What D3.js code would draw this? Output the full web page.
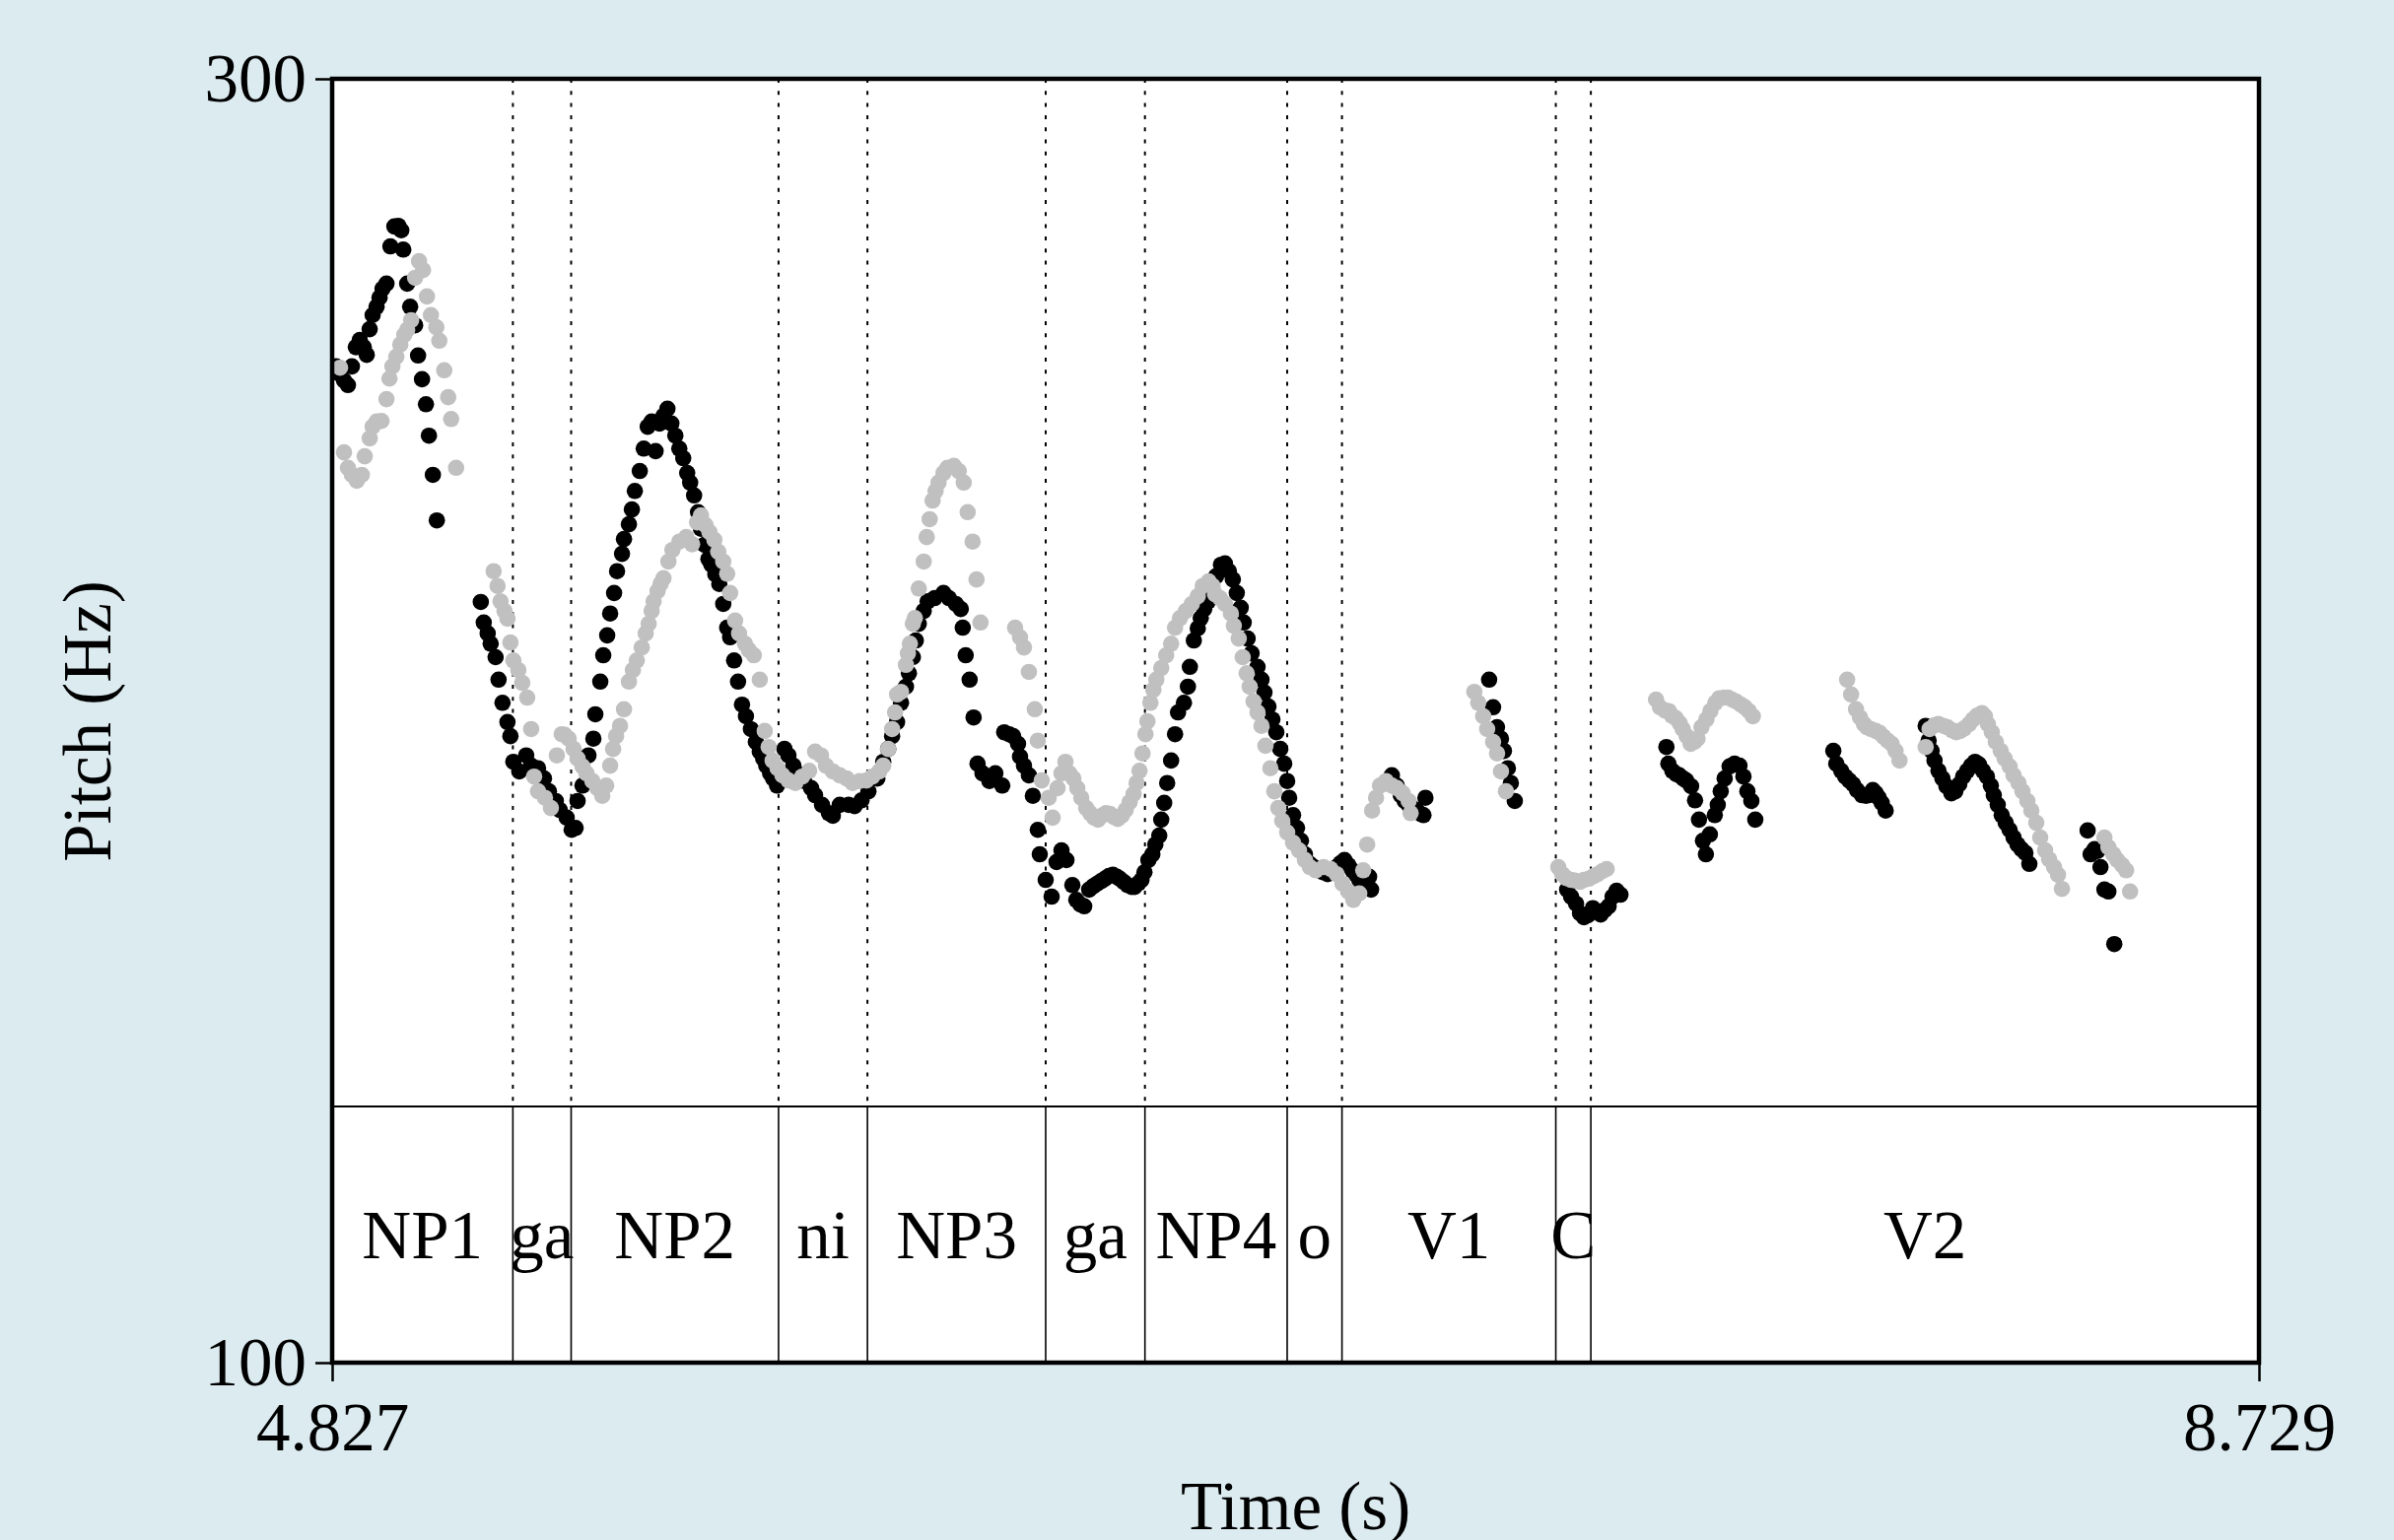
<!DOCTYPE html>
<html><head><meta charset="utf-8">
<script src="https://cdn.jsdelivr.net/npm/d3@7"></script>
<style>
html,body{margin:0;padding:0;background:#dcebf0;}
svg{display:block;}
text{font-family:"Liberation Serif","Times New Roman",serif;fill:#000;}
</style></head><body>
<svg id="chart" width="2429" height="1563"></svg>
<script>
// ---------- data ----------
const timeTicks = [4.827, 8.729];
const pitchTicks = [100, 300];
const tierLabels = ["NP1","ga","NP2","ni","NP3","ga","NP4","o","V1","C","V2"];
const tierBoundaries = [5.193, 5.311, 5.731, 5.911, 6.272, 6.473, 6.761, 6.872, 7.305, 7.376];

// [time (s), pitch (Hz)]
const blackPitch = [
[4.835,255.2],[4.843,254.0],[4.851,253.0],[4.859,252.3],[4.867,255.2],[4.875,258.2],[4.883,259.3],[4.891,258.2],[4.897,257.0],[4.903,261.0],[4.909,263.2],[4.917,264.5],[4.923,265.9],[4.929,267.3],[4.937,268.1],[4.945,273.9],[4.953,277.0],[4.961,277.1],[4.967,276.4],[4.971,273.4],[4.979,268.1],[4.985,264.5],[4.995,261.6],[5.001,256.9],[5.009,253.2],[5.017,249.3],[5.023,244.4],[5.031,238.3],[5.039,231.2],
[5.128,218.5],[5.134,215.3],[5.142,213.6],[5.148,212.0],[5.158,209.9],[5.164,206.4],[5.172,202.8],[5.182,199.8],[5.188,197.6],[5.194,193.6],[5.206,192.1],[5.220,194.6],[5.230,193.0],[5.244,192.6],[5.256,191.0],[5.266,189.0],[5.280,187.5],[5.288,186.1],[5.302,184.9],[5.312,183.0],[5.320,183.3],[5.324,187.5],[5.334,189.9],[5.346,194.6],[5.356,197.2],[5.360,201.0],[5.370,206.1],[5.376,210.2],[5.384,213.3],[5.390,216.7],[5.398,219.9],[5.404,223.3],[5.414,226.0],[5.418,228.3],[5.428,230.6],[5.434,232.9],[5.440,235.8],[5.450,238.9],[5.458,242.4],[5.466,245.8],[5.474,246.6],[5.482,242.0],[5.490,246.3],[5.498,247.5],[5.506,248.6],[5.514,246.3],[5.522,244.4],[5.530,242.4],[5.538,240.9],[5.546,238.6],[5.552,237.1],[5.560,235.1],[5.568,232.5],[5.574,229.9],[5.581,227.4],[5.589,225.2],[5.595,224.3],[5.603,222.8],[5.611,221.3],[5.619,218.2],[5.627,214.5],[5.633,213.0],[5.641,209.4],[5.649,206.1],[5.657,202.5],[5.665,200.7],[5.675,198.7],[5.685,196.7],[5.693,195.2],[5.700,194.1],[5.706,193.0],[5.714,191.8],[5.720,191.0],[5.728,189.9],
[5.743,195.6],[5.751,194.6],[5.761,193.0],[5.769,191.8],[5.783,190.6],[5.797,189.5],[5.805,188.4],[5.819,186.9],[5.833,185.6],[5.841,185.2],[5.855,186.9],[5.873,186.9],[5.885,186.7],[5.899,187.6],[5.913,189.0],[5.931,191.0],[5.943,193.6],[5.953,195.6],[5.961,197.6],[5.971,199.8],[5.979,202.8],[5.989,205.3],[5.995,207.4],[6.003,209.9],[6.009,212.5],[6.015,215.1],[6.025,217.1],[6.033,218.6],[6.047,219.1],[6.065,219.9],[6.076,219.1],[6.090,218.2],[6.100,217.4],[6.104,214.5],[6.110,210.2],[6.118,206.4],[6.126,200.5],[6.134,193.3],[6.144,191.8],[6.158,190.6],[6.170,191.8],[6.184,189.9],
[6.188,198.2],[6.198,197.9],[6.206,197.6],[6.216,196.4],[6.220,194.4],[6.228,193.0],[6.238,191.5],[6.246,188.3],[6.256,183.0],[6.260,179.2],[6.272,175.2],[6.284,172.6],[6.294,178.0],[6.304,179.8],[6.314,178.3],[6.326,174.4],[6.334,172.1],[6.342,171.4],[6.350,171.1],[6.360,173.7],[6.368,174.2],[6.376,174.6],[6.384,175.0],[6.392,175.4],[6.400,175.8],[6.408,176.0],[6.416,175.7],[6.422,175.4],[6.430,174.9],[6.438,174.4],[6.446,174.1],[6.452,174.1],[6.460,174.7],[6.466,175.2],[6.472,176.4],[6.480,178.3],[6.488,179.2],[6.494,180.7],[6.502,182.1],[6.506,184.6],[6.512,187.2],[6.518,190.3],[6.526,193.8],[6.534,197.9],[6.540,201.3],[6.552,202.8],[6.560,205.3],[6.564,208.4],[6.572,212.5],[6.580,214.4],[6.586,216.0],[6.593,217.4],[6.601,218.6],[6.609,220.6],[6.617,222.5],[6.627,224.3],[6.635,224.5],[6.643,223.3],[6.651,222.0],[6.659,219.9],[6.667,217.6],[6.673,215.3],[6.681,212.8],[6.689,210.5],[6.701,208.4],[6.709,206.4],[6.715,204.4],[6.723,202.2],[6.731,200.2],[6.739,198.2],[6.747,195.6],[6.755,193.3],[6.761,190.6],[6.765,188.0],[6.773,185.3],[6.781,183.3],[6.789,181.3],[6.797,179.2],[6.807,177.7],[6.815,177.2],[6.823,176.9],[6.833,176.4],[6.843,176.1],[6.853,176.7],[6.861,177.2],[6.869,177.8],[6.877,178.3],[6.885,177.5],[6.893,176.7],[6.901,176.0],[6.907,175.2],[6.919,175.7],[6.927,175.7],[6.931,173.7],
[6.973,191.5],[6.983,189.9],[6.991,188.4],[6.999,187.5],[7.007,186.9],[7.015,186.4],[7.023,186.1],[7.031,185.5],[7.037,185.3],[7.041,188.0],
[7.170,206.4],[7.178,202.1],[7.186,199.0],[7.194,197.2],[7.200,195.3],[7.208,192.6],[7.214,190.3],[7.222,187.5],
[7.328,173.7],[7.336,172.6],[7.346,171.5],[7.354,170.0],[7.362,169.4],[7.370,169.7],[7.380,170.8],[7.388,170.3],[7.396,169.8],[7.404,170.5],[7.412,171.1],[7.420,172.6],[7.428,173.5],[7.436,172.9],
[7.529,195.9],[7.533,193.3],[7.541,192.2],[7.549,191.7],[7.555,191.5],[7.563,191.0],[7.569,190.7],[7.579,189.8],[7.587,187.6],[7.595,184.6],[7.603,181.3],[7.609,179.2],[7.617,182.3],[7.627,185.3],[7.633,186.9],[7.639,189.0],[7.647,191.0],[7.657,192.9],[7.667,193.3],[7.677,193.0],[7.685,191.3],[7.693,189.0],[7.701,187.5],[7.709,184.6],
[7.867,195.3],[7.873,193.3],[7.883,192.2],[7.891,191.3],[7.899,190.7],[7.907,190.1],[7.915,189.2],[7.925,188.4],[7.933,188.3],[7.939,188.4],[7.947,189.2],[7.953,188.7],[7.959,188.0],[7.965,187.2],[7.973,186.0],
[8.054,199.2],[8.060,196.9],[8.066,195.3],[8.072,193.8],[8.080,192.2],[8.088,191.0],[8.096,189.8],[8.106,188.7],[8.114,189.0],[8.122,190.1],[8.130,191.3],[8.138,192.2],[8.146,193.0],[8.154,193.6],[8.162,193.2],[8.170,192.2],[8.178,191.3],[8.186,189.9],[8.192,188.4],[8.200,186.9],[8.208,185.3],[8.216,184.1],[8.224,183.0],[8.232,181.8],[8.240,180.7],[8.248,180.0],[8.256,179.4],[8.264,177.7],
[8.382,182.9],[8.388,179.2],[8.396,180.0],[8.402,179.7],[8.408,177.2],[8.416,173.7],[8.424,173.4],[8.436,165.2]
];

const grayPitch = [
[4.843,255.0],[4.851,241.8],[4.859,239.4],[4.867,238.3],[4.877,237.4],[4.887,238.3],[4.893,241.2],[4.903,244.0],[4.909,245.8],[4.917,246.6],[4.927,246.7],[4.937,250.1],[4.943,253.3],[4.949,255.2],[4.957,256.7],[4.965,258.6],[4.973,260.1],[4.979,260.9],[4.987,262.4],[4.995,269.0],[5.003,271.6],[5.011,270.2],[5.019,266.1],[5.027,263.2],[5.038,261.3],[5.044,259.2],[5.054,254.6],[5.062,250.4],[5.068,247.0],[5.078,239.4],
[5.154,223.3],[5.162,221.0],[5.168,218.6],[5.176,217.1],[5.182,215.9],[5.188,212.2],[5.194,209.4],[5.204,207.9],[5.212,205.9],[5.222,203.6],[5.230,198.7],[5.236,191.3],[5.244,189.0],[5.258,188.0],[5.270,186.4],[5.282,194.6],[5.292,197.9],[5.298,197.8],[5.306,197.2],[5.316,195.6],[5.324,194.1],[5.334,192.9],[5.342,191.8],[5.354,190.6],[5.364,189.5],[5.374,188.3],[5.382,189.9],[5.390,193.0],[5.396,195.6],[5.402,197.6],[5.410,199.2],[5.418,201.8],[5.428,206.1],[5.436,207.9],[5.444,209.4],[5.454,211.4],[5.462,213.6],[5.468,215.1],[5.474,217.1],[5.478,218.6],[5.486,220.2],[5.492,221.3],[5.498,222.2],[5.508,224.8],[5.516,226.6],[5.530,227.9],[5.544,228.6],[5.556,227.5],[5.566,230.9],[5.574,232.0],[5.583,230.5],[5.591,229.4],[5.601,228.2],[5.609,226.3],[5.619,224.8],[5.627,222.9],[5.633,219.9],[5.643,215.6],[5.651,213.6],[5.663,212.0],[5.671,211.0],[5.681,210.2],[5.693,206.4],[5.703,198.4],[5.711,195.9],[5.719,193.8],[5.729,192.6],[5.739,191.5],[5.751,190.7],[5.765,190.3],[5.779,191.3],[5.793,192.2],[5.805,195.2],[5.817,194.6],[5.827,193.0],[5.841,192.1],[5.855,191.5],[5.869,191.0],[5.881,190.3],[5.895,190.6],[5.909,190.7],[5.921,191.3],[5.935,192.1],[5.943,193.0],[5.953,195.6],[5.961,198.7],[5.967,201.3],[5.971,204.1],[5.979,204.5],[5.989,208.7],[5.993,210.5],[5.997,212.0],[6.003,215.1],[6.007,216.0],[6.015,220.6],[6.025,224.8],[6.031,228.6],[6.037,231.4],[6.043,234.3],[6.049,235.8],[6.055,237.1],[6.065,238.6],[6.073,239.4],[6.086,239.7],[6.096,238.9],[6.106,237.1],[6.114,232.5],[6.124,227.9],[6.132,222.0],[6.140,215.3],
[6.210,214.5],[6.220,213.0],[6.228,211.4],[6.238,207.6],[6.250,201.8],[6.256,196.9],[6.264,190.7],[6.278,188.0],[6.286,184.9],[6.296,189.5],[6.304,191.8],[6.312,193.6],[6.320,191.8],[6.328,191.0],[6.336,189.5],[6.344,188.0],[6.354,186.4],[6.362,185.6],[6.370,184.9],[6.378,184.6],[6.386,185.2],[6.394,185.6],[6.402,185.5],[6.410,185.0],[6.418,184.7],[6.426,185.2],[6.434,186.1],[6.442,187.3],[6.450,188.6],[6.456,190.3],[6.462,192.2],[6.468,194.9],[6.474,197.9],[6.478,199.9],[6.484,202.8],[6.490,204.8],[6.496,206.4],[6.506,208.2],[6.516,210.2],[6.526,212.0],[6.534,214.5],[6.544,216.0],[6.556,217.1],[6.568,218.2],[6.580,219.4],[6.590,221.0],[6.602,221.7],[6.610,221.0],[6.615,219.7],[6.625,219.1],[6.635,218.2],[6.647,216.7],[6.653,214.8],[6.663,212.8],[6.671,209.9],[6.679,207.4],[6.685,205.3],[6.693,203.0],[6.701,201.3],[6.709,199.2],[6.717,196.1],[6.727,192.6],[6.735,189.0],[6.743,186.4],[6.751,184.4],[6.761,182.6],[6.773,181.0],[6.785,179.8],[6.797,178.3],[6.807,177.2],[6.819,176.7],[6.835,177.2],[6.849,176.9],[6.861,176.1],[6.873,174.6],[6.885,173.4],[6.895,172.1],[6.907,173.1],[6.915,176.7],[6.923,180.7],[6.933,186.0],[6.941,188.0],[6.949,189.9],[6.961,190.6],[6.973,189.9],[6.983,189.5],[6.995,188.7],[7.007,187.5],[7.011,185.6],
[7.140,204.5],[7.148,202.8],[7.158,200.7],[7.166,198.7],[7.178,196.7],[7.186,194.9],[7.194,192.1],[7.204,189.0],
[7.310,177.2],[7.318,176.1],[7.326,175.5],[7.336,175.2],[7.344,175.1],[7.354,174.9],[7.362,175.2],[7.372,175.4],[7.382,175.8],[7.390,176.1],[7.400,176.6],[7.408,176.9],
[7.508,203.3],[7.516,202.1],[7.526,201.6],[7.534,201.5],[7.540,200.8],[7.548,200.4],[7.556,199.6],[7.562,198.7],[7.570,197.6],[7.578,196.4],[7.586,196.7],[7.592,197.2],[7.600,199.0],[7.610,200.2],[7.618,201.5],[7.628,202.8],[7.636,203.5],[7.646,203.6],[7.654,203.6],[7.662,203.3],[7.670,203.0],[7.680,202.5],[7.688,202.1],[7.696,201.5],[7.704,200.7],
[7.895,206.4],[7.903,204.1],[7.913,201.8],[7.921,200.5],[7.929,199.5],[7.935,199.0],[7.943,198.7],[7.953,198.4],[7.961,198.1],[7.969,197.5],[7.977,196.9],[7.985,196.4],[7.993,195.3],[8.001,193.8],
[8.054,195.9],[8.062,198.7],[8.072,199.3],[8.080,199.5],[8.090,199.2],[8.098,199.0],[8.108,198.5],[8.116,198.2],[8.124,198.4],[8.132,198.8],[8.142,199.5],[8.150,200.2],[8.158,200.8],[8.168,201.2],[8.174,200.7],[8.180,199.5],[8.188,198.2],[8.196,196.7],[8.206,195.3],[8.214,194.1],[8.224,192.9],[8.232,191.5],[8.242,190.3],[8.250,189.0],[8.260,187.5],[8.268,186.0],[8.278,184.1],[8.286,181.8],[8.296,179.8],[8.304,178.4],[8.314,177.2],[8.322,176.0],[8.330,173.8],
[8.416,181.8],[8.424,180.3],[8.434,179.2],[8.442,178.3],[8.452,177.5],[8.460,176.7],[8.468,173.4]
];

// ---------- layout ----------
const M = {left: 337, right: 2292, top: 80, bottom: 1383};
const tierTop = 1123;
const FS = 69;

const svg = d3.select("#chart");
const x = d3.scaleLinear().domain([timeTicks[0], timeTicks[1]]).range([M.left, M.right]);
const y = d3.scaleLinear().domain([pitchTicks[0], pitchTicks[1]]).range([M.bottom, M.top]);

svg.append("defs").append("clipPath").attr("id", "plotClip")
  .append("rect").attr("x", M.left).attr("y", M.top)
  .attr("width", M.right - M.left).attr("height", M.bottom - M.top);

// white plot area
svg.append("rect").attr("x", M.left).attr("y", M.top)
  .attr("width", M.right - M.left).attr("height", M.bottom - M.top)
  .attr("fill", "#fff");

// dotted boundary lines in pitch area
svg.append("g").selectAll("line").data(tierBoundaries).join("line")
  .attr("x1", d => x(d)).attr("x2", d => x(d))
  .attr("y1", M.top).attr("y2", tierTop)
  .attr("stroke", "#000").attr("stroke-width", 2)
  .attr("stroke-dasharray", "4,8.3");

// pitch dots
const dots = svg.append("g").attr("clip-path", "url(#plotClip)");
dots.append("g").selectAll("circle").data(blackPitch).join("circle")
  .attr("cx", d => x(d[0])).attr("cy", d => y(d[1])).attr("r", 8.3)
  .attr("fill", "#000");
dots.append("g").selectAll("circle").data(grayPitch).join("circle")
  .attr("cx", d => x(d[0])).attr("cy", d => y(d[1])).attr("r", 8.3)
  .attr("fill", "#c0c0c0");

// tier
svg.append("line").attr("x1", M.left).attr("x2", M.right)
  .attr("y1", tierTop).attr("y2", tierTop)
  .attr("stroke", "#000").attr("stroke-width", 2);
svg.append("g").selectAll("line").data(tierBoundaries).join("line")
  .attr("x1", d => x(d)).attr("x2", d => x(d))
  .attr("y1", tierTop).attr("y2", M.bottom)
  .attr("stroke", "#000").attr("stroke-width", 1.6);

const edges = [timeTicks[0], ...tierBoundaries, timeTicks[1]];
svg.append("g").selectAll("text").data(tierLabels).join("text")
  .attr("x", (d, i) => x((edges[i] + edges[i + 1]) / 2))
  .attr("y", (tierTop + M.bottom) / 2 + 24)
  .attr("text-anchor", "middle")
  .attr("font-size", FS)
  .text(d => d);

// frame
svg.append("rect").attr("x", M.left).attr("y", M.top)
  .attr("width", M.right - M.left).attr("height", M.bottom - M.top)
  .attr("fill", "none").attr("stroke", "#000").attr("stroke-width", 4.5);

// axes
const yAxis = svg.append("g").attr("transform", `translate(${M.left},0)`)
  .call(d3.axisLeft(y).tickValues(pitchTicks).tickSize(17).tickPadding(9).tickFormat(d3.format("d")));
const xAxis = svg.append("g").attr("transform", `translate(0,${M.bottom})`)
  .call(d3.axisBottom(x).tickValues(timeTicks).tickSize(19).tickPadding(21).tickFormat(d3.format(".3f")));
[yAxis, xAxis].forEach(a => {
  a.select(".domain").remove();
  a.selectAll(".tick line").attr("stroke", "#000").attr("stroke-width", 2.5);
  a.selectAll(".tick text").attr("font-size", FS)
    .attr("font-family", '"Liberation Serif","Times New Roman",serif').attr("fill", "#000");
});

// axis titles
svg.append("text").attr("x", (M.left + M.right) / 2).attr("y", 1552)
  .attr("text-anchor", "middle").attr("font-size", FS).text("Time (s)");
svg.append("text").attr("transform", "translate(112,732) rotate(-90)")
  .attr("text-anchor", "middle").attr("font-size", FS).text("Pitch (Hz)");
</script>
</body></html>
